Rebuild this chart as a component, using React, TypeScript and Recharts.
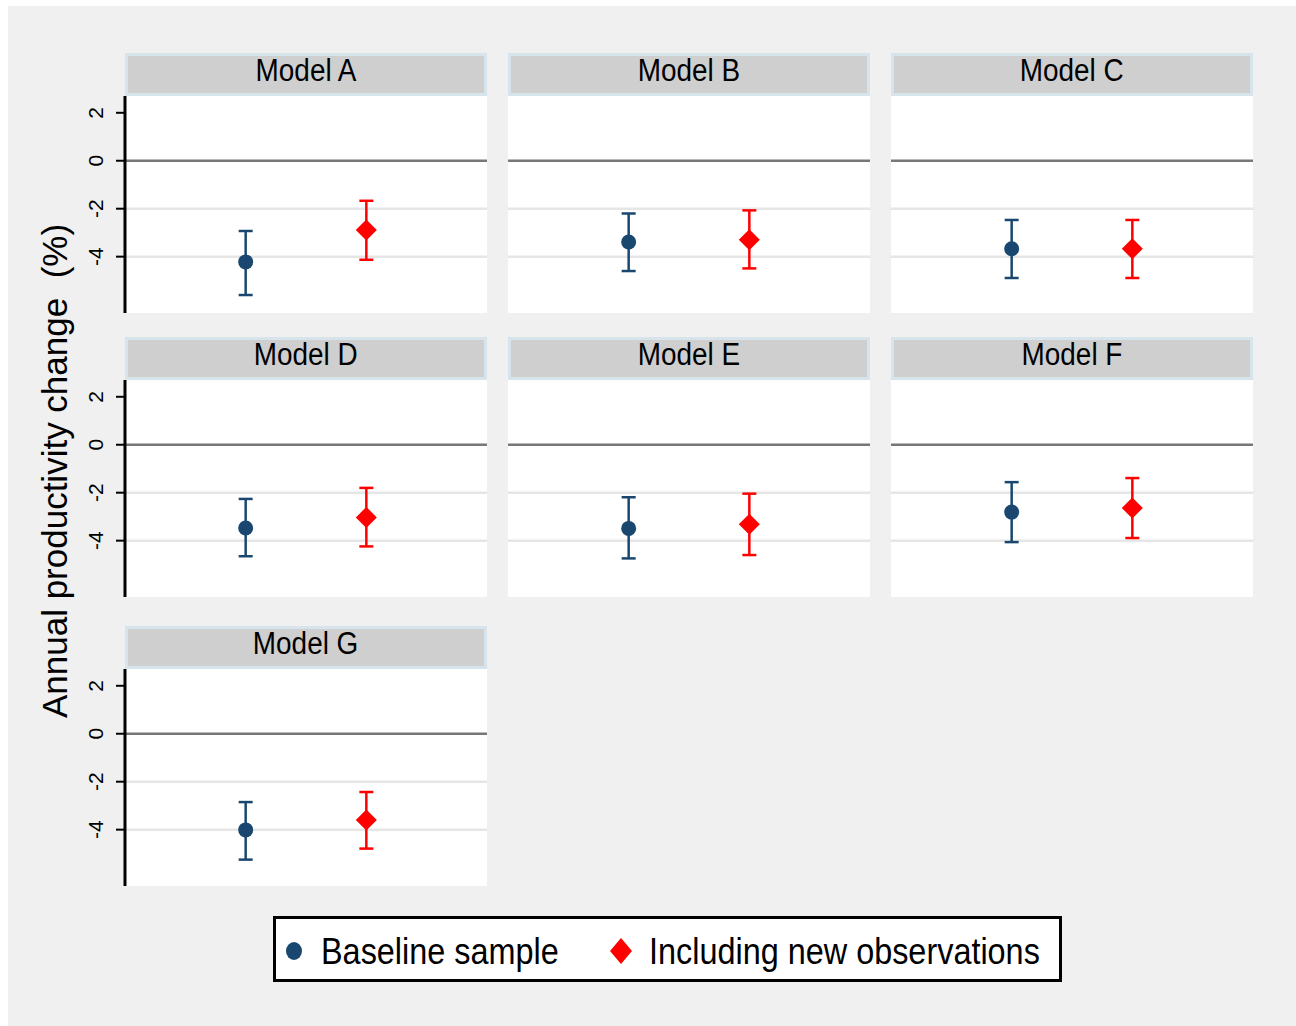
import React from "react";
import {
  ErrorBar,
  ReferenceLine,
  Scatter,
  ScatterChart,
  XAxis,
  YAxis,
} from "recharts";

// point estimates and 95% bounds, one entry per model
const models = ["Model A", "Model B", "Model C", "Model D", "Model E", "Model F", "Model G"];
const baseEst = [-4.22, -3.39, -3.67, -3.47, -3.49, -2.81, -4.01];
const baseLo = [-5.6, -4.6, -4.89, -4.65, -4.74, -4.06, -5.25];
const baseHi = [-2.93, -2.2, -2.47, -2.26, -2.19, -1.56, -2.85];
const newEst = [-2.89, -3.29, -3.67, -3.03, -3.32, -2.64, -3.6];
const newLo = [-4.13, -4.49, -4.89, -4.24, -4.6, -3.89, -4.79];
const newHi = [-1.67, -2.07, -2.47, -1.8, -2.04, -1.39, -2.43];

const yTicks = [2, 0, -2, -4];
const gridValues = [-2, -4];
const yDomain: [number, number] = [-6.35, 2.7];

const NAVY = "#1a476f";
const RED = "#ff0000";
const FONT = "'Liberation Sans', Arial, Helvetica, sans-serif";

const colLeft = [125, 508, 891];
const rowTop = [53, 337, 626];
const PANEL_W = 362;
const STRIP_H = 43;
const PLOT_H = 217;
const AXIS_W = 45;

const Dot = (props: any) => {
  const { cx, cy } = props;
  if (cx == null || cy == null) return null;
  return <circle cx={cx} cy={cy} r={7.5} fill={NAVY} />;
};

const Diamond = (props: any) => {
  const { cx, cy } = props;
  if (cx == null || cy == null) return null;
  const s = 10.5;
  return (
    <path
      d={`M${cx},${cy - s}L${cx + s},${cy}L${cx},${cy + s}L${cx - s},${cy}Z`}
      fill={RED}
    />
  );
};

const VerticalTick = (props: any) => {
  const { x, y, payload } = props;
  return (
    <text
      transform={`translate(${x - 11},${y}) rotate(-90)`}
      textAnchor="middle"
      fontSize={21}
      fontFamily={FONT}
      fill="#000"
    >
      {payload.value}
    </text>
  );
};

function Panel({ index }: { index: number }) {
  const col = index % 3;
  const row = Math.floor(index / 3);
  const left = colLeft[col];
  const top = rowTop[row];
  const showAxis = col === 0;

  const baseline = [
    { x: 1, y: baseEst[index], err: [baseEst[index] - baseLo[index], baseHi[index] - baseEst[index]] },
  ];
  const extended = [
    { x: 2, y: newEst[index], err: [newEst[index] - newLo[index], newHi[index] - newEst[index]] },
  ];

  return (
    <>
      <div
        style={{
          position: "absolute",
          left,
          top,
          width: PANEL_W,
          height: STRIP_H,
          boxSizing: "border-box",
          background: "#cfcfcf",
          border: "3px solid #d8e4eb",
          display: "flex",
          alignItems: "center",
          justifyContent: "center",
        }}
      >
        <span
          style={{
            fontFamily: FONT,
            fontSize: 31,
            color: "#000",
            transform: "scaleX(0.9)",
            marginTop: -8,
            whiteSpace: "nowrap",
          }}
        >
          {models[index]}
        </span>
      </div>
      <div
        style={{
          position: "absolute",
          left,
          top: top + STRIP_H,
          width: PANEL_W,
          height: PLOT_H,
          background: "#ffffff",
        }}
      />
      <div
        style={{
          position: "absolute",
          left: showAxis ? left - AXIS_W : left,
          top: top + STRIP_H,
        }}
      >
        <ScatterChart
          width={showAxis ? PANEL_W + AXIS_W : PANEL_W}
          height={PLOT_H}
          margin={{ top: 0, right: 0, bottom: 0, left: 0 }}
        >
          <XAxis type="number" dataKey="x" domain={[0, 3]} hide />
          <YAxis
            type="number"
            dataKey="y"
            domain={yDomain}
            allowDataOverflow
            ticks={yTicks}
            hide={!showAxis}
            width={AXIS_W}
            axisLine={{ stroke: "#000", strokeWidth: 3 }}
            tickLine={{ stroke: "#000", strokeWidth: 2 }}
            tickSize={9}
            tick={<VerticalTick />}
          />
          {gridValues.map((v) => (
            <ReferenceLine key={v} y={v} stroke="#e6e6e6" strokeWidth={2.5} />
          ))}
          <ReferenceLine y={0} stroke="#777777" strokeWidth={2.5} />
          <Scatter data={baseline} shape={<Dot />} isAnimationActive={false}>
            <ErrorBar dataKey="err" direction="y" width={7} stroke={NAVY} strokeWidth={2.5} />
          </Scatter>
          <Scatter data={extended} shape={<Diamond />} isAnimationActive={false}>
            <ErrorBar dataKey="err" direction="y" width={7} stroke={RED} strokeWidth={2.5} />
          </Scatter>
        </ScatterChart>
      </div>
    </>
  );
}

export default function App() {
  return (
    <div style={{ position: "absolute", left: 0, top: 0, width: 1296, height: 1026, overflow: "hidden" }}>
      <div
        style={{
          position: "absolute",
          left: 8,
          top: 6,
          right: 0,
          bottom: 0,
          background: "#f0f0f0",
        }}
      />
      {models.map((_, i) => (
        <Panel key={i} index={i} />
      ))}
      <svg
        width={1296}
        height={1026}
        style={{ position: "absolute", left: 0, top: 0, pointerEvents: "none" }}
      >
        <text
          transform="translate(67,471) rotate(-90)"
          textAnchor="middle"
          fontSize={35}
          fontFamily={FONT}
          fill="#000"
          style={{ whiteSpace: "pre" }}
        >
          Annual productivity change  (%)
        </text>
      </svg>
      <div
        style={{
          position: "absolute",
          left: 273,
          top: 916,
          width: 789,
          height: 66,
          boxSizing: "border-box",
          background: "#ffffff",
          border: "3px solid #000",
          fontFamily: FONT,
        }}
      >
        <svg width={783} height={60} style={{ position: "absolute", left: 0, top: 0 }}>
          <ellipse cx={18} cy={32} rx={8} ry={9} fill={NAVY} />
          <path d="M345,19L356,32L345,45L334,32Z" fill={RED} />
        </svg>
        <span
          style={{
            position: "absolute",
            left: 45,
            top: 13,
            fontSize: 36,
            lineHeight: "40px",
            transform: "scaleX(0.9)",
            transformOrigin: "left center",
            whiteSpace: "nowrap",
          }}
        >
          Baseline sample
        </span>
        <span
          style={{
            position: "absolute",
            left: 373,
            top: 13,
            fontSize: 36,
            lineHeight: "40px",
            transform: "scaleX(0.9)",
            transformOrigin: "left center",
            whiteSpace: "nowrap",
          }}
        >
          Including new observations
        </span>
      </div>
    </div>
  );
}
